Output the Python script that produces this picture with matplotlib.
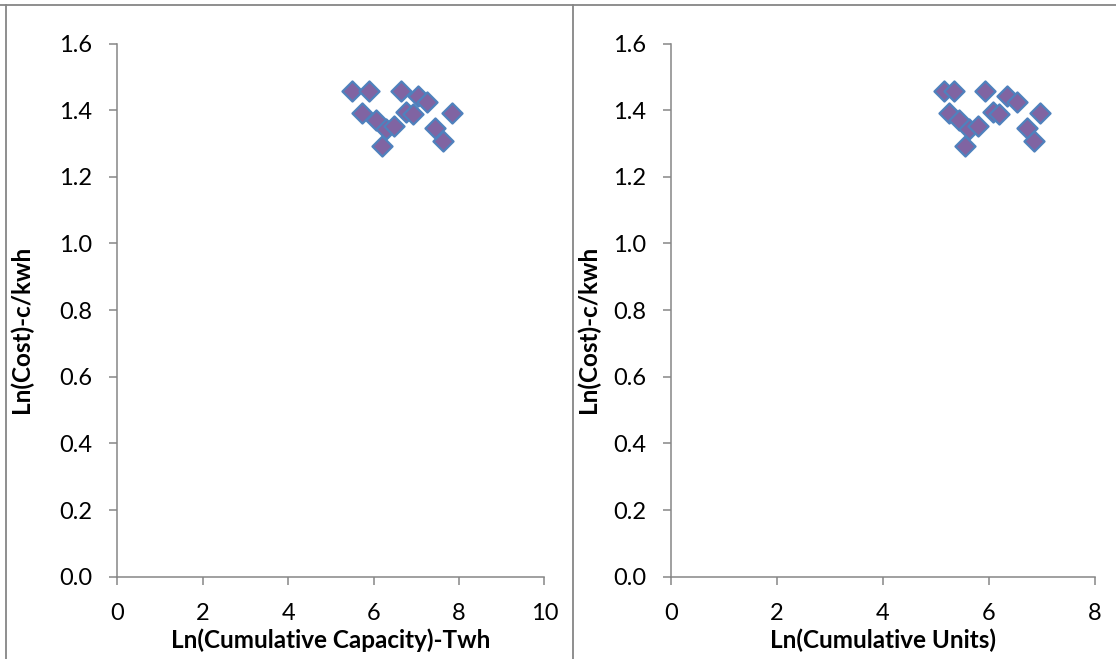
import matplotlib
matplotlib.use("Agg")
import matplotlib.pyplot as plt
from matplotlib.lines import Line2D

# ---- data ----
ln_cost = [1.456, 1.458, 1.456, 1.441, 1.425, 1.391, 1.395, 1.389, 1.390,
           1.371, 1.344, 1.352, 1.345, 1.308, 1.291]
ln_cum_capacity = [5.50, 5.90, 6.64, 7.05, 7.26, 5.72, 6.75, 6.93, 7.85,
                   6.06, 6.29, 6.48, 7.44, 7.63, 6.19]
ln_cum_units = [5.16, 5.35, 5.93, 6.34, 6.54, 5.25, 6.07, 6.20, 6.97,
                5.44, 5.63, 5.79, 6.72, 6.85, 5.54]

y_ticks = [0.0, 0.2, 0.4, 0.6, 0.8, 1.0, 1.2, 1.4, 1.6]
x_ticks_left = [0, 2, 4, 6, 8, 10]
x_ticks_right = [0, 2, 4, 6, 8]

y_label = "Ln(Cost)-c/kwh"
x_label_left = "Ln(Cumulative Capacity)-Twh"
x_label_right = "Ln(Cumulative Units)"
title_text = "Figure 4: Learning Curve for Cost vs. Cumulative (Capacity), and Learning Curve for Cost vs. Cumulative Design (Units)"

W, H = 1116, 659
plt.rcParams['font.family'] = ['Lato', 'DejaVu Sans']
fig = plt.figure(figsize=(W / 100, H / 100), dpi=100)

grey = "#868686"
face = "#8064A2"
edge = "#4F81BD"


def px(x0, y0, x1, y1):
    # convert pixel box (top-left origin) to figure fraction rect
    return [x0 / W, 1 - y1 / H, (x1 - x0) / W, (y1 - y0) / H]


def make_axes(rect, xs, xticks, xlabel, ylabel_x):
    ax = fig.add_axes(rect)
    ax.scatter(xs, ln_cost, marker='D', s=105, facecolor=face, edgecolor=edge,
               linewidths=1.6, zorder=3, clip_on=False)
    ax.set_xlim(xticks[0], xticks[-1])
    ax.set_ylim(y_ticks[0], y_ticks[-1])
    ax.set_xticks(xticks)
    ax.set_yticks(y_ticks)
    ax.set_xticklabels([str(t) for t in xticks])
    ax.set_yticklabels([f"{t:.1f}" for t in y_ticks])
    for s in ['top', 'right']:
        ax.spines[s].set_visible(False)
    for s in ['left', 'bottom']:
        ax.spines[s].set_color(grey)
        ax.spines[s].set_linewidth(1.1)
    ax.tick_params(axis='both', colors=grey, labelcolor='black', length=6,
                   width=1.1, direction='out', labelsize=17)
    ax.tick_params(axis='x', pad=13)
    ax.tick_params(axis='y', pad=12)
    ax.set_xlabel(xlabel, fontsize=17.5, fontweight='bold', labelpad=3)
    ax.set_ylabel(y_label, fontsize=17.5, fontweight='bold')
    ax.yaxis.set_label_coords(ylabel_x, 0.5, transform=fig.transFigure)
    ax.patch.set_alpha(0)
    return ax


make_axes(px(117.3, 43.5, 544.3, 576.7), ln_cum_capacity, x_ticks_left, x_label_left, 33 / W)
make_axes(px(671.3, 43.5, 1094.7, 576.7), ln_cum_units, x_ticks_right, x_label_right, 600 / W)

# chart-area borders
for x in [5.5, 573]:
    fig.add_artist(Line2D([x / W, x / W], [0, 1 - 4.5 / H], color=grey, lw=1.3))
fig.add_artist(Line2D([0, 1], [1 - 4.5 / H, 1 - 4.5 / H], color=grey, lw=1.3))

# cut-off title at the very top (only the bottoms of its glyphs show)
fig.text(0.0, 1 + 5 / H, title_text, fontsize=16, fontweight='bold',
         family=['Liberation Serif', 'DejaVu Serif'], va='baseline', ha='left')

fig.savefig("out.png", dpi=100)
